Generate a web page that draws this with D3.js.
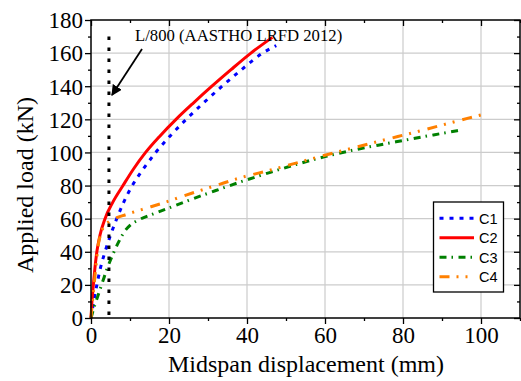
<!DOCTYPE html>
<html><head><meta charset="utf-8">
<script src="https://cdn.jsdelivr.net/npm/d3@7"></script>
<style>
html,body{margin:0;padding:0;background:#fff;}
svg{display:block;}
</style>
</head><body>
<svg id="chart" width="521" height="381"></svg>
<script>
// ---- data ----
const seriesNames = ["C1", "C2", "C3", "C4"];
const seriesColors = ["#0000ff", "#ff0000", "#008000", "#ff8000"];
const seriesDash = ["4,6", null, "7,5,1.5,5.5", "10,7,2,7,2,8"];
const c1 = [[0,0],[0.7,10],[1.5,20],[2.4,30],[3.6,40],[5.0,50],[6.6,60],[8.4,70],[10.6,80],[13.4,90],[16.6,100],[20.3,110],[24.4,120],[28.9,130],[33.6,140],[38.6,150],[44.0,160],[47.5,164.5]];
const c2 = [[0,0],[0.25,10],[0.6,20],[1.0,30],[1.5,40],[2.3,50],[3.6,60],[5.6,70],[8.2,80],[10.9,90],[14.0,100],[17.7,110],[21.8,120],[26.3,130],[31.0,140],[35.9,150],[41.0,160],[46.5,169.5]];
const c3 = [[0,0],[1,8],[2,15],[3,22],[4,29],[5,35],[6,40.5],[7,45.5],[8,50],[9,53.5],[10,56],[12,59],[15,62],[20,66.5],[25,71],[32,77],[40,83.5],[46,88],[53,93],[60,97.5],[67,101.3],[75,105],[80,107.2],[85,109.4],[90,111.5],[94.2,113.3]];
const c4 = [[0,0],[0.3,8],[0.8,20],[1.3,32],[1.8,43],[2.4,50],[3.2,55],[4.5,58],[6,60],[9,62.5],[13,65.5],[18.5,69.5],[26,75.5],[32,80],[38,84.5],[46.6,89.7],[56,95.8],[65.4,101.6],[74.8,107.3],[84,112.8],[93,118.4],[97,120.9],[101.4,123.4]];
const seriesData = [c1, c2, c3, c4];
const limitX = [4.6];           // L/800 displacement (mm)
const limitLoad = [0, 170];     // extent of limit line (kN)
const xTicks = [0, 20, 40, 60, 80, 100];
const yTicks = [0, 20, 40, 60, 80, 100, 120, 140, 160, 180];
const xMinor = [10, 30, 50, 70, 90, 110];
const yMinor = [10, 30, 50, 70, 90, 110, 130, 150, 170];
const annotation = "L/800 (AASTHO LRFD 2012)";
const xTitle = "Midspan displacement (mm)";
const yTitle = "Applied load (kN)";

// ---- layout ----
const L = 91, R = 520, T = 20, B = 318;
const x = d3.scaleLinear().domain([0, 110]).range([L, R]);
const y = d3.scaleLinear().domain([0, 180]).range([B, T]);
const svg = d3.select("#chart");
const serif = "'Liberation Serif','Times New Roman',serif";
const sans = "'Liberation Sans',Arial,sans-serif";

// grid
const grid = svg.append("g").attr("stroke", "#cccccc").attr("stroke-width", 1.2);
grid.selectAll("line.gx").data(xTicks.filter(d => d > 0)).join("line")
  .attr("x1", d => x(d)).attr("x2", d => x(d)).attr("y1", T).attr("y2", B);
grid.selectAll("line.gy").data(yTicks.filter(d => d > 0 && d < 180)).join("line")
  .attr("x1", L).attr("x2", R).attr("y1", d => y(d)).attr("y2", d => y(d));

// series
const line = d3.line().x(d => x(d[0])).y(d => y(d[1])).curve(d3.curveMonotoneX);
seriesData.forEach((data, i) => {
  svg.append("path").datum(data)
    .attr("fill", "none")
    .attr("stroke", seriesColors[i])
    .attr("stroke-width", 3)
    .attr("stroke-dasharray", seriesDash[i])
    .attr("d", line);
});

// limit line
svg.append("line")
  .attr("x1", x(limitX[0])).attr("x2", x(limitX[0]))
  .attr("y1", y(limitLoad[1])).attr("y2", y(limitLoad[0]))
  .attr("stroke", "#000").attr("stroke-width", 3).attr("stroke-dasharray", "3.5,7.5");

// arrow
svg.append("defs").append("marker").attr("id", "ah")
  .attr("viewBox", "0 0 10 10").attr("refX", 9).attr("refY", 5)
  .attr("markerWidth", 6).attr("markerHeight", 6).attr("orient", "auto")
  .attr("markerUnits", "strokeWidth")
  .append("path").attr("d", "M0,0 L10,5 L0,10 z").attr("fill", "#000");
svg.append("line").attr("x1", 142).attr("y1", 49).attr("x2", 112).attr("y2", 95)
  .attr("stroke", "#000").attr("stroke-width", 1.8).attr("marker-end", "url(#ah)");
svg.append("text").attr("x", 135).attr("y", 41)
  .attr("font-family", serif).attr("font-size", 16.7).attr("fill", "#000")
  .text(annotation);

// axes
function styleAxis(g) {
  g.select(".domain").remove();
  g.selectAll("line").attr("stroke", "#000").attr("stroke-width", 1.3);
}
const bottom = svg.append("g").attr("transform", `translate(0,${B})`)
  .call(d3.axisBottom(x).tickValues(xTicks).tickSize(6).tickSizeOuter(0).tickPadding(3).tickFormat(d3.format("d")));
styleAxis(bottom);
bottom.selectAll("text").attr("font-family", serif).attr("font-size", 23).attr("fill", "#000");
svg.append("g").attr("transform", `translate(0,${B})`)
  .call(d3.axisBottom(x).tickValues(xMinor).tickSize(3).tickSizeOuter(0).tickFormat(""))
  .call(styleAxis);

const left = svg.append("g").attr("transform", `translate(${L},0)`)
  .call(d3.axisLeft(y).tickValues(yTicks).tickSize(6).tickSizeOuter(0).tickPadding(2).tickFormat(d3.format("d")));
styleAxis(left);
left.selectAll("text").attr("font-family", serif).attr("font-size", 23).attr("fill", "#000").attr("dy", "0.34em");
svg.append("g").attr("transform", `translate(${L},0)`)
  .call(d3.axisLeft(y).tickValues(yMinor).tickSize(3).tickSizeOuter(0).tickFormat(""))
  .call(styleAxis);

svg.append("g").attr("transform", `translate(0,${T})`)
  .call(d3.axisTop(x).tickValues(xTicks).tickSize(-6).tickSizeOuter(0).tickFormat(""))
  .call(styleAxis);
svg.append("g").attr("transform", `translate(0,${T})`)
  .call(d3.axisTop(x).tickValues(xMinor).tickSize(-3).tickSizeOuter(0).tickFormat(""))
  .call(styleAxis);
svg.append("g").attr("transform", `translate(${R},0)`)
  .call(d3.axisRight(y).tickValues(yTicks).tickSize(-6).tickSizeOuter(0).tickFormat(""))
  .call(styleAxis);
svg.append("g").attr("transform", `translate(${R},0)`)
  .call(d3.axisRight(y).tickValues(yMinor).tickSize(-3).tickSizeOuter(0).tickFormat(""))
  .call(styleAxis);

// frame
svg.append("rect").attr("x", L).attr("y", T).attr("width", R - L).attr("height", B - T)
  .attr("fill", "none").attr("stroke", "#000").attr("stroke-width", 1.5);

// titles
svg.append("text").attr("x", (170 + 442) / 2).attr("y", 372).attr("text-anchor", "middle")
  .attr("font-family", serif).attr("font-size", 24).attr("fill", "#000").text(xTitle);
svg.append("text").attr("transform", "translate(33,185) rotate(-90)").attr("text-anchor", "middle")
  .attr("font-family", serif).attr("font-size", 24).attr("fill", "#000").text(yTitle);

// legend
const lg = svg.append("g");
lg.append("rect").attr("x", 433.5).attr("y", 202).attr("width", 70).attr("height", 90)
  .attr("fill", "#fff").attr("stroke", "#000").attr("stroke-width", 1.3);
const rowY = d3.scalePoint().domain(seriesNames).range([218.3, 276.8]);
seriesNames.forEach((n, i) => {
  lg.append("line").attr("x1", 439.5).attr("x2", 474).attr("y1", rowY(n)).attr("y2", rowY(n))
    .attr("stroke", seriesColors[i]).attr("stroke-width", 3).attr("stroke-dasharray", seriesDash[i]);
  lg.append("text").attr("x", 479).attr("y", rowY(n) + 5.2)
    .attr("font-family", sans).attr("font-size", 14.5).attr("fill", "#000").text(n);
});
</script>
</body></html>
